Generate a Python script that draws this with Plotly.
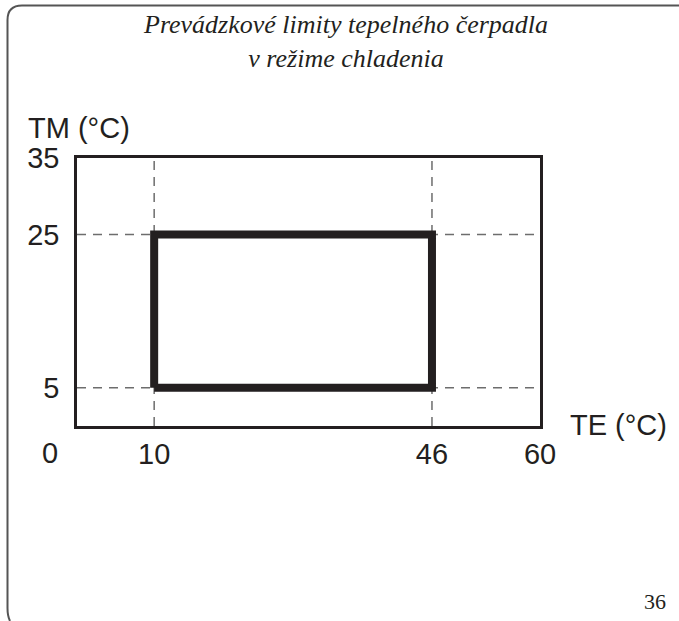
import plotly.graph_objects as go

# ---- data ----
te_limits = [10, 46]          # TE (°C) min / max
tm_limits = [5, 25]           # TM (°C) min / max
x_ticks = [10, 46, 60]
x_tick_labels = ["10", "46", "60"]
y_ticks = [5, 25, 35]
y_tick_labels = ["5", "25", "35"]
x_range = [0, 60]
y_range = [0, 35]
title_lines = ["Prevádzkové limity tepelného čerpadla", "v režime chladenia"]
page_number = "36"

W, H = 679, 621
L, R, T, B = 77, 540, 158, 426   # plot area in pixels

def px(x):
    return (x - L) / (R - L)

def py(y):
    return (B - y) / (B - T)

ink = "#231f20"
sans = "Liberation Sans, Arial, sans-serif"
serif = "Liberation Serif, Times New Roman, serif"

fig = go.Figure()

# dashed guide lines at the limits
for xv in te_limits:
    fig.add_trace(go.Scatter(x=[xv, xv], y=y_range, mode="lines",
                             line=dict(color="#6d6d6d", width=1.5, dash="9px,7px"),
                             hoverinfo="skip", showlegend=False))
for yv in tm_limits:
    fig.add_trace(go.Scatter(x=x_range, y=[yv, yv], mode="lines",
                             line=dict(color="#6d6d6d", width=1.5, dash="9px,7px"),
                             hoverinfo="skip", showlegend=False))

# operating envelope
rx = [te_limits[0], te_limits[0], te_limits[1], te_limits[1], te_limits[0]]
ry = [tm_limits[0], tm_limits[1], tm_limits[1], tm_limits[0], tm_limits[0]]
fig.add_trace(go.Scatter(x=rx, y=ry, mode="lines",
                         line=dict(color=ink, width=8),
                         hoverinfo="skip", showlegend=False))

fig.update_xaxes(range=x_range, tickvals=x_ticks, ticktext=x_tick_labels,
                 showgrid=False, zeroline=False, showline=True, mirror=True,
                 linecolor=ink, linewidth=2.5, ticks="",
                 tickfont=dict(family=sans, size=29, color=ink),
                 ticklabelstandoff=0)
fig.update_yaxes(range=y_range, tickvals=y_ticks, ticktext=y_tick_labels,
                 showgrid=False, zeroline=False, showline=True, mirror=True,
                 linecolor=ink, linewidth=2.5, ticks="",
                 tickfont=dict(family=sans, size=29, color=ink),
                 ticklabelstandoff=9)

ann = []
ann.append(dict(text="<br>".join(title_lines), x=px(345), y=py(41), xref="paper", yref="paper",
                showarrow=False, xanchor="center", yanchor="middle",
                font=dict(family=serif, size=26, color=ink, style="italic")))
ann.append(dict(text="TM (°C)", x=px(79), y=py(128), xref="paper", yref="paper",
                showarrow=False, xanchor="center", yanchor="middle",
                font=dict(family=sans, size=29, color=ink)))
ann.append(dict(text="TE (°C)", x=px(568), y=py(425), xref="paper", yref="paper",
                showarrow=False, xanchor="left", yanchor="middle",
                font=dict(family=sans, size=29, color=ink)))
ann.append(dict(text="0", x=px(50), y=py(453), xref="paper", yref="paper",
                showarrow=False, xanchor="center", yanchor="middle",
                font=dict(family=sans, size=29, color=ink)))
ann.append(dict(text=page_number, x=px(655), y=py(601), xref="paper", yref="paper",
                showarrow=False, xanchor="center", yanchor="middle",
                font=dict(family=serif, size=22, color=ink)))

# page frame (left + top edge with rounded corner)
frame = (f"M {px(10)} {py(621)} Q {px(7.5)} {py(616)} {px(7.5)} {py(608)} "
         f"L {px(7.5)} {py(20)} "
         f"Q {px(7.5)} {py(5.5)} {px(22)} {py(5.5)} L {px(690)} {py(5.5)}")

fig.update_layout(
    width=W, height=H,
    margin=dict(l=L, r=W - R, t=T, b=H - B),
    paper_bgcolor="white", plot_bgcolor="white",
    annotations=ann,
    shapes=[dict(type="path", path=frame, xref="paper", yref="paper",
                 line=dict(color="#555555", width=2))],
    showlegend=False,
)

fig.write_html("out.html",
               config={"displayModeBar": False},
               post_script="document.body.style.margin='0';document.body.style.overflow='hidden';")
